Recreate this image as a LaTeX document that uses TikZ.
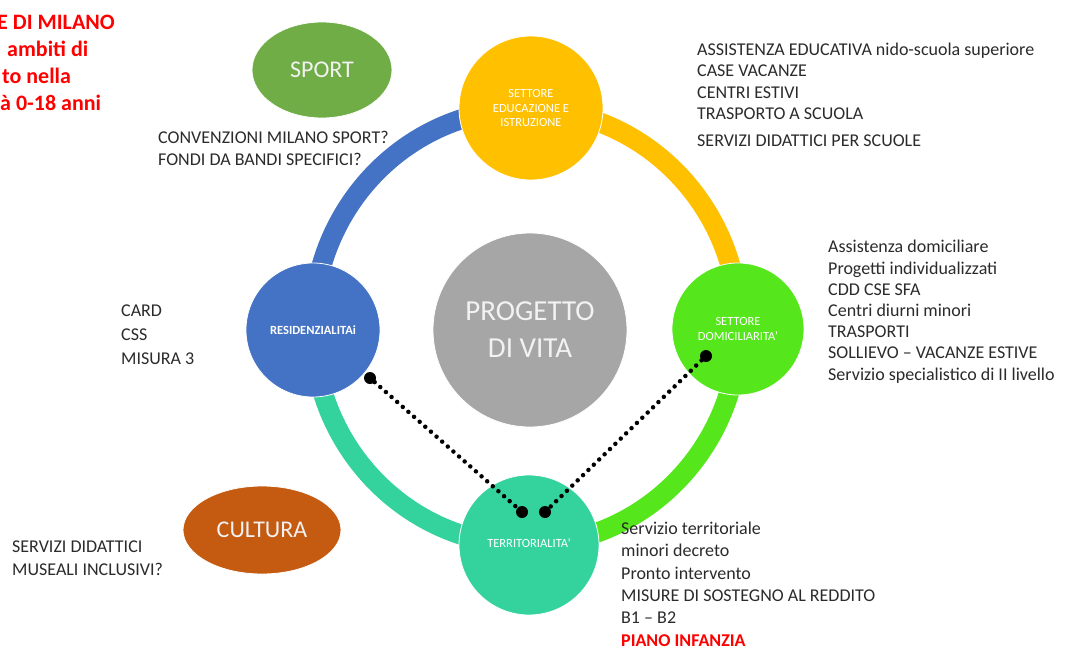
\documentclass[tikz,border=0pt]{standalone}
\usepackage{fontspec}
\setmainfont{Carlito}
\usetikzlibrary{shapes.geometric}
\definecolor{ringblue}{HTML}{4472C4}
\definecolor{ringyellow}{HTML}{FFC000}
\definecolor{ringgreen}{HTML}{55E61C}
\definecolor{ringteal}{HTML}{34D39E}
\definecolor{coregrey}{HTML}{A6A6A6}
\definecolor{sportgreen}{HTML}{70AD47}
\definecolor{culturaorange}{HTML}{C55A11}
\definecolor{titlered}{HTML}{FF0000}
\definecolor{textgrey}{HTML}{2B2B2B}
\begin{document}
\begin{tikzpicture}[x=1pt,y=-1pt,
  sector/.style={circle, draw=white, line width=0.8pt, inner sep=0pt, text=white,
    align=center, font=\fontsize{12.5}{14.5}\selectfont},
  theme/.style={ellipse, draw=white, line width=0.8pt, inner sep=0pt, text=white!95!black,
    font=\fontsize{24}{28}\selectfont},
  % lists are placed by the baseline of their last line
  listtext/.style={anchor=base west, align=left, inner sep=0pt, text=textgrey,
    font=\fontsize{18}{21.2}\selectfont},
  titletext/.style={anchor=base west, inner sep=0pt, text=titlered,
    font=\fontsize{22}{27}\selectfont\bfseries},
  ring/.style={line width=20pt},
  enddot/.style={circle, fill=black, inner sep=0pt, minimum size=12pt},
  dotline/.style={line width=4.5pt, line cap=round, dash pattern=on 0pt off 7.5pt},
]
\clip (0,0) rectangle (1066,648);
\fill[white] (0,0) rectangle (1066,648);

% the ring joining the four sectors
\draw[ring, ringblue]   (313,327) arc[start angle=180, end angle=270, x radius=213, y radius=218];
\draw[ring, ringyellow] (526,109) arc[start angle=270, end angle=360, x radius=213, y radius=218];
\draw[ring, ringgreen]  (739,327) arc[start angle=0,   end angle=90,  x radius=213, y radius=218];
\draw[ring, ringteal]   (526,545) arc[start angle=90,  end angle=180, x radius=213, y radius=218];

% sectors
\node[sector, fill=ringyellow, minimum size=144] (edu) at (531,108) {SETTORE\\EDUCAZIONE E\\ISTRUZIONE};
\node[sector, fill=ringblue, minimum size=134, font=\fontsize{12.5}{14.5}\selectfont\bfseries] (res) at (313,330) {RESIDENZIALITAi};
\node[sector, fill=ringgreen, minimum size=132] (dom) at (738,329) {SETTORE\\DOMICILIARITA'};
\node[sector, fill=ringteal, minimum size=140] (ter) at (529,545) {\raisebox{4pt}{TERRITORIALITA'}};
\node[sector, fill=coregrey, minimum size=194, text=white!95!black,
  font=\fontsize{29}{37}\selectfont] (core) at (530,330) {PROGETTO\\DI VITA};

% side themes
\node[theme, fill=sportgreen, minimum width=140, minimum height=96] (sport) at (322,70) {SPORT};
\node[theme, fill=culturaorange, minimum width=158, minimum height=88] (cult) at (262,530) {CULTURA};

% dotted links towards territoriality
\node[enddot] (dA) at (370,378) {};
\node[enddot] (dB) at (522,512) {};
\node[enddot] (dC) at (545,512) {};
\node[enddot] (dD) at (706,356) {};
\draw[dotline] (dA) -- (dB);
\draw[dotline] (dD) -- (dC);

% heading
\node[titletext] (t1) at (-3,29) {E DI MILANO};
\node[titletext] (t2) at (7,56) {ambiti di};
\node[titletext] (t3) at (2,83) {to nella};
\node[titletext] (t4) at (0,110) {à 0-18 anni};

% service lists
\node[listtext] (edulist) at (697,146.5) {ASSISTENZA EDUCATIVA nido-scuola superiore\\CASE VACANZE\\CENTRI ESTIVI\\TRASPORTO A SCUOLA\\[6pt]SERVIZI DIDATTICI PER SCUOLE};
\node[listtext] (domlist) at (828,380) {Assistenza domiciliare\\Progetti individualizzati\\CDD CSE SFA\\Centri diurni minori\\TRASPORTI\\SOLLIEVO -- VACANZE ESTIVE\\Servizio specialistico di II livello};
\node[listtext, font=\fontsize{18}{22.3}\selectfont] (terlist) at (621,646) {Servizio territoriale\\minori decreto\\Pronto intervento\\MISURE DI SOSTEGNO AL REDDITO\\B1 -- B2\\\textcolor{titlered}{\bfseries PIANO INFANZIA}};
\node[listtext, font=\fontsize{18}{24}\selectfont] (reslist) at (121,364) {CARD\\CSS\\MISURA 3};
\node[listtext, font=\fontsize{18}{22.7}\selectfont] (cultlist) at (12,575) {SERVIZI DIDATTICI\\MUSEALI INCLUSIVI?};
\node[listtext, font=\fontsize{18}{21.3}\selectfont] (sportlist) at (158,165) {CONVENZIONI MILANO SPORT?\\FONDI DA BANDI SPECIFICI?};
\end{tikzpicture}
\end{document}
